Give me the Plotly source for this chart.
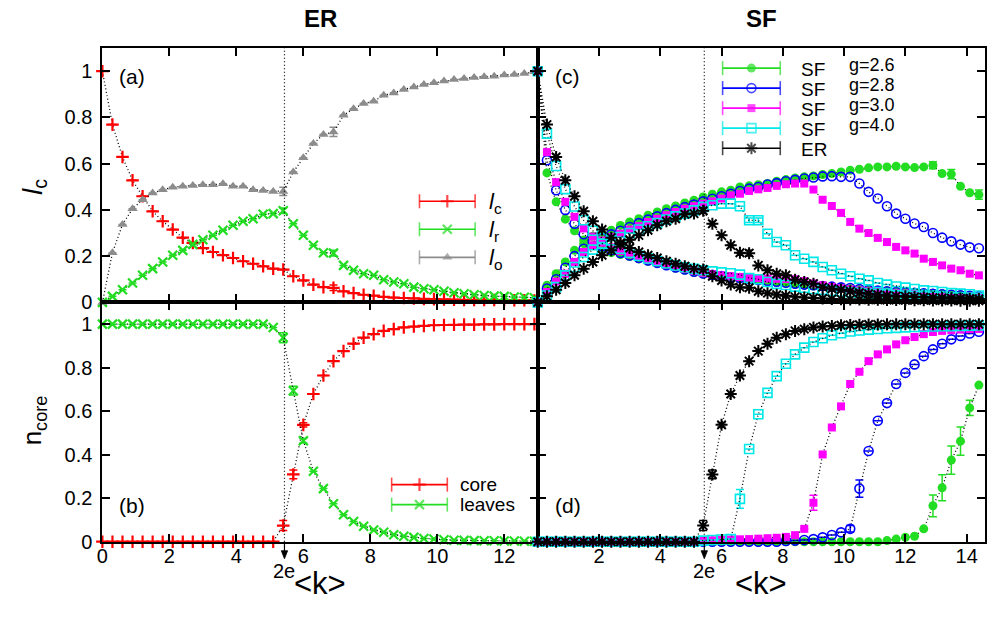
import math
import plotly.graph_objects as go

# ---------------------------------------------------------------- data
# mean degree grid <k>
K = [0.0, 0.3, 0.6, 0.9, 1.2, 1.5, 1.8, 2.1, 2.4, 2.7,
     3.0, 3.3, 3.6, 3.9, 4.2, 4.5, 4.8, 5.1, 5.4, 5.7,
     6.0, 6.3, 6.6, 6.9, 7.2, 7.5, 7.8, 8.1, 8.4, 8.7,
     9.0, 9.3, 9.6, 9.9, 10.2, 10.5, 10.8, 11.1, 11.4, 11.7,
     12.0, 12.3, 12.6, 12.9, 13.2, 13.5, 13.8, 14.1, 14.4]
N_LEFT = 44          # points shown in the ER column (<k> <= 12.9)
E2 = 2 * math.e      # critical mean degree 2e

# ER: fractions l_c, l_r, l_o
ER_LC = [1.0, 0.769, 0.629, 0.528, 0.459, 0.394, 0.351, 0.315, 0.280, 0.257,
         0.235, 0.218, 0.204, 0.192, 0.178, 0.167, 0.156, 0.146, 0.142, 0.113,
         0.095, 0.077, 0.066, 0.063, 0.048, 0.040, 0.033, 0.029, 0.024, 0.021,
         0.019, 0.017, 0.015, 0.014, 0.013, 0.012, 0.011, 0.011, 0.010, 0.010,
         0.009, 0.009, 0.009, 0.008, 0.008, 0.008, 0.007, 0.007, 0.007]
ER_LR = [0.0, 0.026, 0.055, 0.084, 0.117, 0.146, 0.175, 0.204, 0.225, 0.251,
         0.271, 0.290, 0.312, 0.334, 0.351, 0.362, 0.381, 0.384, 0.396, 0.340,
         0.290, 0.247, 0.215, 0.213, 0.160, 0.139, 0.124, 0.117, 0.098, 0.088,
         0.081, 0.066, 0.059, 0.055, 0.048, 0.042, 0.037, 0.033, 0.030, 0.027,
         0.026, 0.023, 0.022, 0.020, 0.019, 0.018, 0.017, 0.016, 0.015]
ER_LO = [0.0, 0.215, 0.337, 0.405, 0.444, 0.473, 0.487, 0.498, 0.502, 0.506,
         0.509, 0.509, 0.513, 0.502, 0.502, 0.487, 0.484, 0.480, 0.480, 0.564,
         0.626, 0.687, 0.726, 0.737, 0.809, 0.838, 0.860, 0.870, 0.896, 0.906,
         0.921, 0.932, 0.942, 0.950, 0.957, 0.964, 0.968, 0.973, 0.976, 0.978,
         0.983, 0.986, 0.990, 0.997]

# ER: core / leaves fractions
ER_CORE = [0.0, 0.0, 0.0, 0.0, 0.0, 0.0, 0.0, 0.0, 0.0, 0.0,
           0.0, 0.0, 0.0, 0.0, 0.0, 0.0, 0.0, 0.0, 0.074, 0.309,
           0.537, 0.679, 0.764, 0.830, 0.876, 0.910, 0.938, 0.954, 0.969, 0.977,
           0.985, 0.989, 0.992, 0.995, 0.996, 0.997, 0.998, 0.998, 0.999, 0.999,
           1.0, 1.0, 1.0, 1.0, 1.0, 1.0, 1.0, 1.0, 1.0]
ER_LEAVES = [1.0, 1.0, 1.0, 1.0, 1.0, 1.0, 1.0, 1.0, 1.0, 1.0,
             1.0, 1.0, 1.0, 1.0, 1.0, 1.0, 1.0, 0.985, 0.938, 0.694,
             0.464, 0.324, 0.244, 0.174, 0.124, 0.093, 0.071, 0.054, 0.043, 0.032,
             0.025, 0.020, 0.015, 0.012, 0.009, 0.007, 0.006, 0.005, 0.004, 0.004,
             0.003, 0.003, 0.002, 0.002, 0.002, 0.001, 0.001, 0.001, 0.001]

# SF networks, exponents g = 2.6, 2.8, 3.0, 4.0
SF26_LC = [1.0, 0.560, 0.435, 0.360, 0.310, 0.270, 0.245, 0.228, 0.215, 0.207,
           0.198, 0.188, 0.178, 0.168, 0.158, 0.148, 0.139, 0.130, 0.122, 0.116,
           0.111, 0.106, 0.102, 0.098, 0.094, 0.090, 0.086, 0.082, 0.078, 0.074,
           0.071, 0.068, 0.065, 0.062, 0.059, 0.056, 0.053, 0.051, 0.049, 0.047,
           0.045, 0.043, 0.041, 0.039, 0.037, 0.035, 0.033, 0.031, 0.029]
SF28_LC = [1.0, 0.615, 0.485, 0.400, 0.340, 0.295, 0.265, 0.243, 0.226, 0.214,
           0.203, 0.192, 0.181, 0.171, 0.161, 0.151, 0.142, 0.133, 0.125, 0.119,
           0.114, 0.109, 0.105, 0.101, 0.097, 0.093, 0.089, 0.085, 0.081, 0.077,
           0.074, 0.071, 0.068, 0.065, 0.062, 0.058, 0.054, 0.051, 0.048, 0.045,
           0.043, 0.041, 0.039, 0.037, 0.035, 0.033, 0.031, 0.029, 0.027]
SF30_LC = [1.0, 0.650, 0.520, 0.435, 0.370, 0.320, 0.285, 0.258, 0.238, 0.222,
           0.208, 0.196, 0.185, 0.174, 0.164, 0.154, 0.145, 0.136, 0.128, 0.122,
           0.117, 0.113, 0.110, 0.107, 0.105, 0.103, 0.102, 0.101, 0.100, 0.092,
           0.082, 0.074, 0.067, 0.061, 0.056, 0.052, 0.048, 0.045, 0.042, 0.040,
           0.038, 0.036, 0.034, 0.032, 0.030, 0.028, 0.027, 0.026, 0.025]
SF40_LC = [1.0, 0.730, 0.590, 0.490, 0.415, 0.355, 0.310, 0.278, 0.252, 0.232,
           0.215, 0.202, 0.190, 0.179, 0.169, 0.160, 0.152, 0.145, 0.139, 0.134,
           0.130, 0.126, 0.120, 0.105, 0.100, 0.088, 0.080, 0.075, 0.068, 0.063,
           0.058, 0.054, 0.050, 0.047, 0.044, 0.041, 0.038, 0.036, 0.034, 0.032,
           0.030, 0.028, 0.026, 0.025, 0.024, 0.023, 0.022, 0.021, 0.020]

SF26_LR = [0.0, 0.074, 0.124, 0.175, 0.225, 0.254, 0.286, 0.297, 0.312, 0.333,
           0.348, 0.362, 0.377, 0.391, 0.405, 0.417, 0.430, 0.442, 0.456, 0.468,
           0.478, 0.485, 0.499, 0.504, 0.509, 0.514, 0.524, 0.531, 0.538, 0.543,
           0.547, 0.553, 0.557, 0.564, 0.571, 0.576, 0.582, 0.586, 0.586, 0.589,
           0.586, 0.583, 0.586, 0.593, 0.557, 0.555, 0.502, 0.474, 0.466]
SF28_LR = [0.0, 0.060, 0.100, 0.150, 0.200, 0.232, 0.260, 0.278, 0.294, 0.310,
           0.326, 0.343, 0.358, 0.372, 0.386, 0.400, 0.412, 0.423, 0.437, 0.448,
           0.459, 0.470, 0.482, 0.492, 0.499, 0.510, 0.516, 0.524, 0.530, 0.536,
           0.540, 0.545, 0.546, 0.543, 0.543, 0.514, 0.478, 0.449, 0.416, 0.384,
           0.362, 0.341, 0.326, 0.300, 0.280, 0.264, 0.250, 0.238, 0.234]
SF30_LR = [0.0, 0.045, 0.090, 0.124, 0.175, 0.218, 0.247, 0.268, 0.283, 0.297,
           0.315, 0.330, 0.348, 0.362, 0.377, 0.391, 0.405, 0.416, 0.427, 0.437,
           0.449, 0.463, 0.470, 0.482, 0.489, 0.495, 0.504, 0.511, 0.514, 0.514,
           0.488, 0.444, 0.417, 0.387, 0.348, 0.319, 0.300, 0.279, 0.261, 0.240,
           0.225, 0.211, 0.189, 0.175, 0.160, 0.146, 0.139, 0.124, 0.117]
SF40_LR = [0.0, 0.030, 0.066, 0.117, 0.153, 0.196, 0.228, 0.254, 0.268, 0.283,
           0.300, 0.315, 0.329, 0.343, 0.358, 0.372, 0.384, 0.398, 0.413, 0.420,
           0.427, 0.427, 0.416, 0.355, 0.355, 0.297, 0.261, 0.247, 0.204, 0.189,
           0.175, 0.153, 0.139, 0.124, 0.113, 0.102, 0.095, 0.084, 0.077, 0.069,
           0.064, 0.058, 0.052, 0.049, 0.045, 0.040, 0.038, 0.035, 0.030]

SF26_CORE = [0.0, 0.0, 0.0, 0.0, 0.0, 0.0, 0.0, 0.0, 0.0, 0.0,
             0.0, 0.0, 0.0, 0.0, 0.0, 0.0, 0.0, 0.0, 0.0, 0.0,
             0.0, 0.0, 0.0, 0.0, 0.0, 0.0, 0.0, 0.0, 0.0, 0.0,
             0.0, 0.0, 0.0, 0.0, 0.0, 0.0, 0.0, 0.0, 0.005, 0.012,
             0.020, 0.025, 0.059, 0.165, 0.248, 0.375, 0.462, 0.615, 0.720]
SF28_CORE = [0.0, 0.0, 0.0, 0.0, 0.0, 0.0, 0.0, 0.0, 0.0, 0.0,
             0.0, 0.0, 0.0, 0.0, 0.0, 0.0, 0.0, 0.0, 0.0, 0.0,
             0.0, 0.0, 0.0, 0.0, 0.0, 0.0, 0.0, 0.003, 0.005, 0.008,
             0.012, 0.020, 0.031, 0.043, 0.059, 0.244, 0.417, 0.556, 0.637, 0.725,
             0.776, 0.815, 0.853, 0.884, 0.910, 0.930, 0.946, 0.957, 0.965]
SF30_CORE = [0.0, 0.0, 0.0, 0.0, 0.0, 0.0, 0.0, 0.0, 0.0, 0.0,
             0.0, 0.0, 0.0, 0.0, 0.0, 0.0, 0.0, 0.0, 0.004, 0.006,
             0.008, 0.010, 0.011, 0.012, 0.014, 0.016, 0.018, 0.022, 0.030, 0.059,
             0.179, 0.401, 0.525, 0.622, 0.725, 0.781, 0.830, 0.861, 0.884, 0.907,
             0.926, 0.941, 0.954, 0.964, 0.969, 0.972, 0.975, 0.977, 0.978]
SF40_CORE = [0.0, 0.0, 0.0, 0.0, 0.0, 0.0, 0.0, 0.0, 0.0, 0.0,
             0.0, 0.0, 0.0, 0.0, 0.0, 0.0, 0.0, 0.0, 0.005, 0.008,
             0.010, 0.012, 0.197, 0.426, 0.586, 0.684, 0.761, 0.818, 0.861, 0.892,
             0.918, 0.935, 0.949, 0.958, 0.966, 0.971, 0.975, 0.978, 0.981, 0.983,
             0.985, 0.987, 0.988, 0.989, 0.990, 0.991, 0.992, 0.993, 0.994]

# error bars (index on the K grid -> half-width)
ER_LC_ERR = {23: 0.012}
ER_LR_ERR = {18: 0.012, 23: 0.012}
ER_LO_ERR = {18: 0.018, 23: 0.02}
ER_CORE_ERR = {18: 0.023, 19: 0.02, 20: 0.01}
ER_LEAVES_ERR = {18: 0.023, 19: 0.02, 20: 0.01}
SF26_LR_ERR = {43: 0.015, 45: 0.02, 48: 0.02}
SF40_LR_ERR = {23: 0.01, 24: 0.01}
SF26_CORE_ERR = {43: 0.05, 44: 0.06, 45: 0.065, 46: 0.065, 47: 0.035}
SF28_CORE_ERR = {34: 0.015, 35: 0.04}
SF30_CORE_ERR = {30: 0.035}
SF40_CORE_ERR = {22: 0.043}

LEGEND_A = ["<i>l</i><sub>c</sub>", "<i>l</i><sub>r</sub>", "<i>l</i><sub>o</sub>"]
LEGEND_B = ["core", "leaves"]
LEGEND_C = ["SF", "SF", "SF", "SF", "ER"]
LEGEND_C_G = ["g=2.6", "g=2.8", "g=3.0", "g=4.0"]

# ---------------------------------------------------------------- styles
W, H = 987, 620
YS = 0.981           # vertical factor between layout pixels and page pixels
FONT = "Liberation Sans, Arial, Helvetica, sans-serif"
NARROW = "Liberation Sans Narrow, Arial Narrow, Liberation Sans, sans-serif"

RED, GREEN, GRAY = "#ff0000", "#22dd22", "#8c8c8c"
BLUE, MAGENTA, CYAN, BLACK = "#0000ff", "#ff00ff", "#00e8e8", "#000000"

STY = {
    "lc": dict(color=RED, symbol="cross-thin", size=9, lw=2.2),
    "lr": dict(color=GREEN, symbol="x-thin", size=9, lw=2.2),
    "lo": dict(color=GRAY, symbol="triangle-up", size=9, lw=0),
    "sf26": dict(color=GREEN, symbol="circle", size=9, lw=0),
    "sf28": dict(color=BLUE, symbol="circle-open", size=9, lw=1.6),
    "sf30": dict(color=MAGENTA, symbol="square", size=8, lw=0),
    "sf40": dict(color=CYAN, symbol="square-open", size=9, lw=1.6),
    "er": dict(color=BLACK, symbol="asterisk-open", size=10, lw=2.0),
}


def px(x):
    return x / W


def py(y):
    return (H - y / YS) / H


XL = [px(97), px(535)]
XR = [px(535), px(985)]
YT = [py(302), py(48)]
YB = [py(541), py(302)]
X_SPAN = {"x3": 13.0 / (535 - 97), "x4": 14.6 / (985 - 535)}   # data units per px

fig = go.Figure()


def series(xa, ya, y, sty, err=None, n=None):
    n = len(y) if n is None else n
    s = STY[sty]
    tr = go.Scatter(
        x=K[:n], y=y[:n], xaxis=xa, yaxis=ya, mode="lines+markers",
        line=dict(color="black", width=1.3, dash="1px,2.5px"),
        marker=dict(symbol=s["symbol"], size=s["size"], color=s["color"],
                    line=dict(color=s["color"], width=s["lw"])),
        cliponaxis=False, showlegend=False, hoverinfo="skip")
    if err:
        tr.error_y = dict(type="data", array=[err.get(i) for i in range(n)],
                          color=s["color"], thickness=1.5, width=4, visible=True)
    fig.add_trace(tr)


# (a) ER fractions
series("x", "y", ER_LC, "lc", ER_LC_ERR, N_LEFT)
series("x", "y", ER_LR, "lr", ER_LR_ERR, N_LEFT)
series("x", "y", ER_LO, "lo", ER_LO_ERR, N_LEFT)

# (c) l_c and l_r for SF and ER
for lc, lr, sty, err in [(SF26_LC, SF26_LR, "sf26", SF26_LR_ERR),
                         (SF28_LC, SF28_LR, "sf28", None),
                         (SF30_LC, SF30_LR, "sf30", None),
                         (SF40_LC, SF40_LR, "sf40", SF40_LR_ERR),
                         (ER_LC, ER_LR, "er", ER_LR_ERR)]:
    series("x2", "y2", lc, sty)
    series("x2", "y2", lr, sty, err)

# (b) ER core / leaves
series("x3", "y3", ER_CORE, "lc", ER_CORE_ERR, N_LEFT)
series("x3", "y3", ER_LEAVES, "lr", ER_LEAVES_ERR, N_LEFT)

# (d) core size for SF and ER
series("x4", "y4", SF26_CORE, "sf26", SF26_CORE_ERR)
series("x4", "y4", SF28_CORE, "sf28", SF28_CORE_ERR)
series("x4", "y4", SF30_CORE, "sf30", SF30_CORE_ERR)
series("x4", "y4", SF40_CORE, "sf40", SF40_CORE_ERR)
series("x4", "y4", ER_CORE, "er", ER_CORE_ERR)


# ---------------------------------------------------------------- legends
# drawn on a full-page pixel overlay (x5/y5)
def legend_sample(x0, x1, y, sty):
    s = STY[sty]
    fig.add_trace(go.Scatter(
        x=[x0, (x0 + x1) / 2, x1], y=[y, y, y], xaxis="x5", yaxis="y5",
        mode="lines+markers", line=dict(color=s["color"], width=1.6),
        marker=dict(symbol=["line-ns", s["symbol"], "line-ns"],
                    size=[10, s["size"], 10], color=s["color"],
                    line=dict(color=s["color"], width=[1.6, s["lw"], 1.6])),
        showlegend=False, hoverinfo="skip", cliponaxis=False))


annotations = []


def text(x, y, t, size=19, anchor="left", family=FONT, **kw):
    annotations.append(dict(x=px(x), y=py(y), xref="paper", yref="paper", text=t,
                            showarrow=False, xanchor=anchor, yanchor="middle",
                            font=dict(family=family, size=size, color="black"), **kw))


for (yy, sty, lab) in zip([201, 229, 257], ["lc", "lr", "lo"], LEGEND_A):
    legend_sample(416, 472, yy, sty)
    text(484, yy + 2, lab, size=22)

for (yy, sty, lab) in zip([484, 504], ["lc", "lr"], LEGEND_B):
    legend_sample(388, 444, yy, sty)
    text(455, yy, lab, size=19)

for i, (yy, sty) in enumerate(zip([68, 88, 108, 128, 148],
                                  ["sf26", "sf28", "sf30", "sf40", "er"])):
    legend_sample(721, 779, yy, sty)
    text(798, yy + 1, LEGEND_C[i], size=19)
    if i < 4:
        text(846, yy - 3, LEGEND_C_G[i], size=18)

# panel letters
text(112, 76, "(a)", size=21)
text(112, 505, "(b)", size=21)
text(550, 76, "(c)", size=21)
text(550, 505, "(d)", size=21)

# column headers and axis titles
text(316, 18, "<b>ER</b>", size=24, anchor="center", family=NARROW)
text(760, 18, "<b>SF</b>", size=24, anchor="center", family=NARROW)
text(316, 583, "&lt;k&gt;", size=31, anchor="center", family=NARROW)
text(760, 583, "&lt;k&gt;", size=31, anchor="center", family=NARROW)
text(28, 187, "<i>l</i><sub>c</sub>", size=28, anchor="center", textangle=-90)
text(28, 420, "n<sub>core</sub>", size=26, anchor="center", textangle=-90)

shapes = []
# 2e markers under the bottom axes: short arrow and label
for xa in ["x3", "x4"]:
    hw = 3.2 * X_SPAN[xa]
    shapes.append(dict(type="line", xref=xa, yref="paper", x0=E2, x1=E2,
                       y0=py(541), y1=py(552),
                       line=dict(color="black", width=1.2)))
    shapes.append(dict(type="path", xref=xa, yref="paper",
                       path=f"M {E2 - hw} {py(550)} L {E2} {py(558)} "
                            f"L {E2 + hw} {py(550)} Z",
                       fillcolor="black", line=dict(color="black", width=0.8)))
    annotations.append(dict(x=E2, xref=xa, y=py(570), yref="paper", text="2e",
                            showarrow=False, xanchor="center", yanchor="middle",
                            font=dict(family=NARROW, size=20, color="black")))

# dotted line at <k> = 2e through both rows
for xa in ["x", "x2"]:
    shapes.append(dict(type="line", xref=xa, yref="paper", x0=E2, x1=E2,
                       y0=YB[0], y1=YT[1],
                       line=dict(color="black", width=1.2, dash="1px,2.5px")))

# ---------------------------------------------------------------- axes
common = dict(showline=True, linewidth=2, linecolor="black", mirror="ticks",
              ticks="inside", ticklen=8, tickwidth=1.5, tickcolor="black",
              showgrid=False, zeroline=False,
              tickfont=dict(family=FONT, size=20, color="black"))
YTICKS = [0, 0.2, 0.4, 0.6, 0.8, 1.0]
YTEXT = ["0", "0.2", "0.4", "0.6", "0.8", "1"]
XTL = [0, 2, 4, 6, 8, 10, 12]
XTR = [2, 4, 6, 8, 10, 12, 14]

fig.update_layout(
    width=W, height=H, margin=dict(l=0, r=0, t=0, b=0),
    paper_bgcolor="white", plot_bgcolor="rgba(0,0,0,0)", showlegend=False,
    xaxis=dict(domain=XL, range=[0, 13], anchor="y", tickvals=XTL,
               showticklabels=False, **common),
    xaxis2=dict(domain=XR, range=[0, 14.6], anchor="y2", tickvals=XTR,
                showticklabels=False, **common),
    xaxis3=dict(domain=XL, range=[0, 13], anchor="y3", tickvals=XTL,
                ticktext=[str(v) for v in XTL], ticklabelstandoff=-5, **common),
    xaxis4=dict(domain=XR, range=[0, 14.6], anchor="y4", tickvals=XTR,
                ticktext=[str(v) for v in XTR], ticklabelstandoff=-5, **common),
    yaxis=dict(domain=YT, range=[0, 1.1], anchor="x", tickvals=YTICKS,
               ticktext=YTEXT, ticklabelstandoff=4, **common),
    yaxis2=dict(domain=YT, range=[0, 1.1], anchor="x2", tickvals=YTICKS,
                showticklabels=False, **common),
    yaxis3=dict(domain=YB, range=[0, 1.1], anchor="x3", tickvals=YTICKS,
                ticktext=YTEXT, ticklabelstandoff=4, **common),
    yaxis4=dict(domain=YB, range=[0, 1.1], anchor="x4", tickvals=YTICKS,
                showticklabels=False, **common),
    xaxis5=dict(domain=[0, 1], range=[0, W], anchor="y5", visible=False,
                fixedrange=True),
    yaxis5=dict(domain=[0, 1], range=[H * YS, 0], anchor="x5", visible=False,
                fixedrange=True),
    annotations=annotations, shapes=shapes,
)

fig.write_html("out.html")
